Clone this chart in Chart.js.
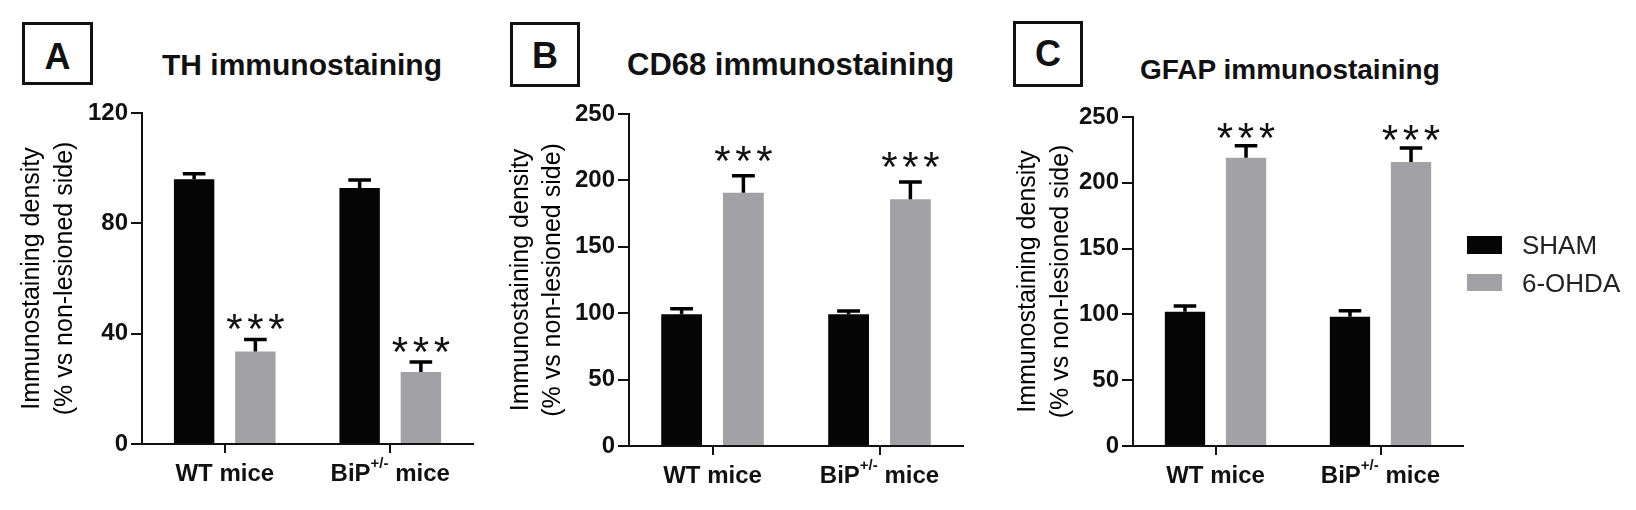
<!DOCTYPE html>
<html>
<head>
<meta charset="utf-8">
<script src="https://cdn.jsdelivr.net/npm/chart.js@4.4.1/dist/chart.umd.min.js"></script>
<style>
  html, body { margin:0; padding:0; background:#fff; }
  #wrap { position:relative; width:1636px; height:510px; background:#fff; overflow:hidden; font-family:"Liberation Sans", Arial, sans-serif; color:#111; }
  canvas { position:absolute; top:0; }
  .box { position:absolute; box-sizing:border-box; border:3px solid #111; display:flex; align-items:center; justify-content:center; font-weight:bold; font-size:36px; line-height:1; }
  .title { position:absolute; white-space:nowrap; font-weight:bold; line-height:1; }
  .leg { position:absolute; }
  .legtxt { position:absolute; white-space:nowrap; font-size:26px; line-height:1; color:#222; }
</style>
</head>
<body>
<div id="wrap">
  <div class="box" style="left:22px;top:22px;width:71px;height:63px;padding-top:6px;">A</div>
  <div class="title" style="left:162px;top:49.6px;font-size:30px;">TH immunostaining</div>
  <div class="box" style="left:510px;top:22px;width:70px;height:65px;padding-top:2px;">B</div>
  <div class="title" style="left:627px;top:48.8px;font-size:31px;">CD68 immunostaining</div>
  <div class="box" style="left:1013px;top:21px;width:70px;height:66px;">C</div>
  <div class="title" style="left:1140px;top:56.3px;font-size:28px;">GFAP immunostaining</div>
  <canvas id="cA" width="490" height="510" style="left:0px"></canvas>
  <canvas id="cB" width="490" height="510" style="left:490px"></canvas>
  <canvas id="cC" width="490" height="510" style="left:990px"></canvas>
  <div class="leg" id="leg0" style="left:1467px;top:236px;width:35px;height:18px;"></div>
  <div class="legtxt" id="legt0" style="left:1522px;top:232.3px;"></div>
  <div class="leg" id="leg1" style="left:1467px;top:274px;width:35px;height:17px;"></div>
  <div class="legtxt" id="legt1" style="left:1522px;top:270.3px;"></div>
</div>
<script>
// ---------- data ----------
const categories = ['WT mice', 'BiP+/- mice'];
const seriesNames = ['SHAM', '6-OHDA'];
const seriesColors = ['#050505', '#a2a2a6'];
const yTitle = ['Immunostaining density', '(% vs non-lesioned side)'];

const thTicks = [0, 40, 80, 120];
const thSham = [96.0, 92.8];
const thShamErr = [2.0, 2.9];
const thOhda = [33.5, 26.1];
const thOhdaErr = [4.4, 3.6];
const thSig = ['***', '***'];

const cd68Ticks = [0, 50, 100, 150, 200, 250];
const cd68Sham = [99.2, 99.2];
const cd68ShamErr = [4.2, 2.5];
const cd68Ohda = [190.7, 185.8];
const cd68OhdaErr = [12.8, 13.0];
const cd68Sig = ['***', '***'];

const gfapTicks = [0, 50, 100, 150, 200, 250];
const gfapSham = [102.0, 98.3];
const gfapShamErr = [4.4, 4.5];
const gfapOhda = [219.1, 215.8];
const gfapOhdaErr = [9.0, 10.6];
const gfapSig = ['***', '***'];

// ---------- legend ----------
document.getElementById('leg0').style.background = seriesColors[0];
document.getElementById('leg1').style.background = seriesColors[1];
document.getElementById('legt0').textContent = seriesNames[0];
document.getElementById('legt1').textContent = seriesNames[1];

const FONT = '"Liberation Sans", Arial, sans-serif';

// ---------- plugin: error bars, significance stars, category labels ----------
const decor = {
  id: 'decor',
  afterDatasetsDraw(chart, args, opts) {
    const ctx = chart.ctx;
    const ys = chart.scales.y;
    const xs = chart.scales.x;
    ctx.save();
    chart.data.datasets.forEach((ds, di) => {
      const meta = chart.getDatasetMeta(di);
      meta.data.forEach((bar, i) => {
        const v = ds.data[i];
        const e = ds.errors[i];
        const yTop = ys.getPixelForValue(v);
        const yCap = ys.getPixelForValue(v + e);
        const w = bar.width;
        ctx.strokeStyle = '#000';
        ctx.lineWidth = 3.5;
        ctx.lineCap = 'butt';
        ctx.beginPath();
        ctx.moveTo(bar.x, yTop);
        ctx.lineTo(bar.x, yCap);
        ctx.moveTo(bar.x - w * 0.28, yCap);
        ctx.lineTo(bar.x + w * 0.28, yCap);
        ctx.stroke();
        const s = ds.sig ? ds.sig[i] : '';
        if (s) {
          ctx.fillStyle = '#111';
          ctx.font = '42px ' + FONT;
          ctx.textAlign = 'center';
          ctx.textBaseline = 'alphabetic';
          const m = ctx.measureText('*');
          const cy = yCap - opts.starGap;
          const base = cy + (m.actualBoundingBoxAscent - m.actualBoundingBoxDescent) / 2;
          const n = s.length;
          for (let k = 0; k < n; k++) {
            ctx.fillText(s[k], bar.x + (k - (n - 1) / 2) * 21, base);
          }
        }
      });
    });
    // category labels (with superscript part)
    const labels = chart.data.labels;
    const base = xs.top + 37;
    labels.forEach((lab, i) => {
      const x = xs.getPixelForValue(i);
      const mm = lab.match(/^(.*?)(\+\/-)(.*)$/);
      const parts = mm ? [[mm[1], false], [mm[2], true], [mm[3], false]] : [[lab, false]];
      const fMain = 'bold 24px ' + FONT;
      const fSup = 'bold 15px ' + FONT;
      let total = 0;
      const widths = parts.map(p => { ctx.font = p[1] ? fSup : fMain; const w = ctx.measureText(p[0]).width; total += w; return w; });
      let cx = x - total / 2;
      ctx.fillStyle = '#111';
      ctx.textAlign = 'left';
      ctx.textBaseline = 'alphabetic';
      parts.forEach((p, k) => {
        ctx.font = p[1] ? fSup : fMain;
        ctx.fillText(p[0], cx, p[1] ? base - 13 : base);
        cx += widths[k];
      });
    });
    ctx.restore();
  }
};

function makeChart(id, ticks, sham, shamErr, ohda, ohdaErr, sig, geo) {
  const ctx = document.getElementById(id);
  return new Chart(ctx, {
    type: 'bar',
    data: {
      labels: categories,
      datasets: [
        { label: seriesNames[0], data: sham, errors: shamErr, sig: null, backgroundColor: seriesColors[0], borderWidth: 0 },
        { label: seriesNames[1], data: ohda, errors: ohdaErr, sig: sig, backgroundColor: seriesColors[1], borderWidth: 0 }
      ]
    },
    options: {
      responsive: false,
      animation: false,
      devicePixelRatio: 1,
      layout: { padding: { top: geo.top, right: 17, left: 0, bottom: 0 } },
      datasets: { bar: { categoryPercentage: 0.74, barPercentage: 0.66 } },
      plugins: {
        legend: { display: false },
        tooltip: { enabled: false },
        decor: { starGap: geo.starGap }
      },
      scales: {
        x: {
          type: 'category',
          offset: true,
          grid: { display: true, offset: false, drawOnChartArea: false, drawTicks: true, tickLength: 9, lineWidth: 2, color: '#111' },
          border: { display: true, color: '#111', width: 2 },
          ticks: { display: false },
          afterFit: s => { s.height = geo.xh; }
        },
        y: {
          min: ticks[0],
          max: ticks[ticks.length - 1],
          afterBuildTicks: s => { s.ticks = ticks.map(v => ({ value: v })); },
          grid: { display: true, drawOnChartArea: false, drawTicks: true, tickLength: 11, lineWidth: 2, color: '#111' },
          border: { display: true, color: '#111', width: 2 },
          ticks: { color: '#111', padding: 3, font: { family: FONT, size: 24, weight: 'bold' } },
          title: {
            display: true,
            text: yTitle,
            color: '#000',
            font: { family: FONT, size: 25, weight: 'normal', lineHeight: 1.3 },
            padding: { top: geo.tpad, bottom: 0 }
          },
          afterFit: s => { s.width = geo.yw; }
        }
      }
    },
    plugins: [decor]
  });
}

makeChart('cA', thTicks, thSham, thShamErr, thOhda, thOhdaErr, thSig, { top: 113, xh: 66, yw: 142, tpad: 16, starGap: 17 });
makeChart('cB', cd68Ticks, cd68Sham, cd68ShamErr, cd68Ohda, cd68OhdaErr, cd68Sig, { top: 114, xh: 64, yw: 139, tpad: 14.5, starGap: 22 });
makeChart('cC', gfapTicks, gfapSham, gfapShamErr, gfapOhda, gfapOhdaErr, gfapSig, { top: 117, xh: 64, yw: 143, tpad: 22, starGap: 15 });
</script>
</body>
</html>
